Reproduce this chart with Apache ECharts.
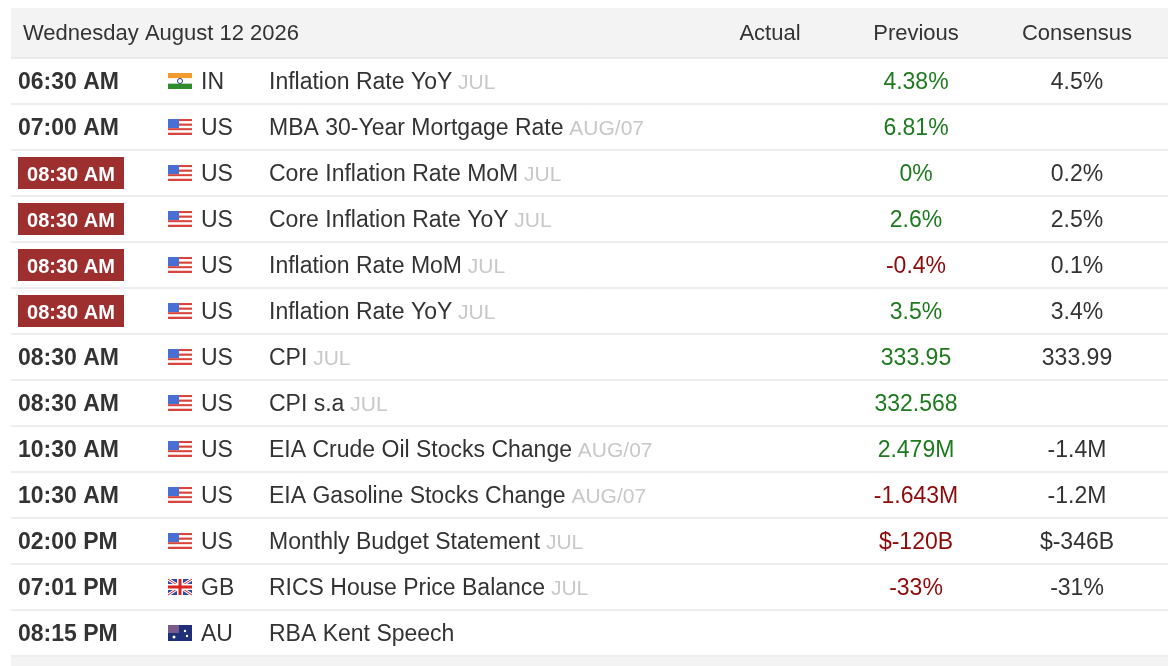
<!DOCTYPE html>
<html><head><meta charset="utf-8">
<script src="https://cdn.jsdelivr.net/npm/echarts@6/dist/echarts.min.js"></script>
<style>html,body{margin:0;background:#fff}#c{width:1168px;height:666px}</style>
</head><body><div id="c"></div>
<script>
// table data
const dateLabel = 'Wednesday August 12 2026';
const headers = ['Actual', 'Previous', 'Consensus'];
const times = ['06:30 AM','07:00 AM','08:30 AM','08:30 AM','08:30 AM','08:30 AM','08:30 AM','08:30 AM','10:30 AM','10:30 AM','02:00 PM','07:01 PM','08:15 PM'];
const highImpact = [0,0,1,1,1,1,0,0,0,0,0,0,0];
const countries = ['IN','US','US','US','US','US','US','US','US','US','US','GB','AU'];
const events = ['Inflation Rate YoY','MBA 30-Year Mortgage Rate','Core Inflation Rate MoM','Core Inflation Rate YoY','Inflation Rate MoM','Inflation Rate YoY','CPI','CPI s.a','EIA Crude Oil Stocks Change','EIA Gasoline Stocks Change','Monthly Budget Statement','RICS House Price Balance','RBA Kent Speech'];
const periods = ['JUL','AUG/07','JUL','JUL','JUL','JUL','JUL','JUL','AUG/07','AUG/07','JUL','JUL',''];
const previous = ['4.38%','6.81%','0%','2.6%','-0.4%','3.5%','333.95','332.568','2.479M','-1.643M','$-120B','-33%',''];
const prevUp = [1,1,1,1,0,1,1,1,1,0,0,0,1];
const consensus = ['4.5%','','0.2%','2.5%','0.1%','3.4%','333.99','','-1.4M','-1.2M','$-346B','-31%',''];

const FONT = '"Liberation Sans", Arial, sans-serif';
const rows = times.map((t, i) => [0, i]);

function flag(code, x, y) {
  const w = 24, h = 16, kids = [];
  if (code === 'IN') {
    kids.push({type:'rect',shape:{x,y,width:w,height:h/3},style:{fill:'#f29a2e'}});
    kids.push({type:'rect',shape:{x,y:y+h/3,width:w,height:h/3},style:{fill:'#fafafa'}});
    kids.push({type:'rect',shape:{x,y:y+2*h/3,width:w,height:h/3},style:{fill:'#2d8a2d'}});
    kids.push({type:'circle',shape:{cx:x+w/2,cy:y+h/2,r:2.5},style:{fill:'none',stroke:'#2a3a8c',lineWidth:1}});
  } else if (code === 'US') {
    for (let s = 0; s < 7; s++) kids.push({type:'rect',shape:{x,y:y+s*h/7,width:w,height:h/7},style:{fill:s%2?'#fff':'#d9453e'}});
    kids.push({type:'rect',shape:{x,y,width:11,height:9},style:{fill:'#4a6fd4'}});
  } else if (code === 'GB') {
    kids.push({type:'rect',shape:{x,y,width:w,height:h},style:{fill:'#2b4aa0'}});
    kids.push({type:'line',shape:{x1:x,y1:y,x2:x+w,y2:y+h},style:{stroke:'#fff',lineWidth:3}});
    kids.push({type:'line',shape:{x1:x+w,y1:y,x2:x,y2:y+h},style:{stroke:'#fff',lineWidth:3}});
    kids.push({type:'line',shape:{x1:x,y1:y,x2:x+w,y2:y+h},style:{stroke:'#d22',lineWidth:1}});
    kids.push({type:'line',shape:{x1:x+w,y1:y,x2:x,y2:y+h},style:{stroke:'#d22',lineWidth:1}});
    kids.push({type:'rect',shape:{x:x+w/2-3,y,width:6,height:h},style:{fill:'#fff'}});
    kids.push({type:'rect',shape:{x,y:y+h/2-3,width:w,height:6},style:{fill:'#fff'}});
    kids.push({type:'rect',shape:{x:x+w/2-1.5,y,width:3,height:h},style:{fill:'#d22'}});
    kids.push({type:'rect',shape:{x,y:y+h/2-1.5,width:w,height:3},style:{fill:'#d22'}});
  } else {
    kids.push({type:'rect',shape:{x,y,width:w,height:h},style:{fill:'#1f2f7a'}});
    kids.push({type:'rect',shape:{x,y,width:11,height:8},style:{fill:'#7a5a8a'}});
    kids.push({type:'circle',shape:{cx:x+17,cy:y+6,r:1.2},style:{fill:'#fff'}});
    kids.push({type:'circle',shape:{cx:x+19,cy:y+11,r:1.2},style:{fill:'#fff'}});
    kids.push({type:'circle',shape:{cx:x+6,cy:y+12,r:1.5},style:{fill:'#fff'}});
  }
  return kids;
}

function renderItem(params, api) {
  const i = api.value(1);
  const c = api.coord([0, i]);
  const cy = c[1];
  const ty = cy + 2;
  const kids = [];
  kids.push({type:'line',shape:{x1:11,y1:cy+23,x2:1168,y2:cy+23},style:{stroke:'#dcdce2',lineWidth:1}});
  if (highImpact[i]) {
    kids.push({type:'rect',shape:{x:18,y:cy-16,width:106,height:32},style:{fill:'#9e2f2f'}});
    kids.push({type:'text',x:71,y:ty,style:{text:times[i],fill:'#fff',font:'bold 20px '+FONT,align:'center',verticalAlign:'middle'}});
  } else {
    kids.push({type:'text',x:18,y:ty,style:{text:times[i],fill:'#333',font:'bold 23px '+FONT,verticalAlign:'middle'}});
  }
  kids.push(...flag(countries[i], 168, cy - 8));
  kids.push({type:'text',x:201,y:ty,style:{text:countries[i],fill:'#333',font:'23px '+FONT,verticalAlign:'middle'}});
  kids.push({type:'text',x:269,y:ty,style:{rich:{e:{fill:'#333',font:'23px '+FONT},p:{fill:'#c8c8c8',font:'21px '+FONT}},text:'{e|'+events[i]+'}{p| '+periods[i]+'}',verticalAlign:'middle'}});
  kids.push({type:'text',x:916,y:ty,style:{text:previous[i],fill:prevUp[i]?'#1e7a1e':'#8e0a0a',font:'23px '+FONT,align:'center',verticalAlign:'middle'}});
  kids.push({type:'text',x:1077,y:ty,style:{text:consensus[i],fill:'#333',font:'23px '+FONT,align:'center',verticalAlign:'middle'}});
  return {type:'group',children:kids};
}

const chart = echarts.init(document.getElementById('c'));
chart.setOption({
  animation: false,
  grid: {left: 0, right: 0, top: 58, bottom: 10},
  xAxis: {type: 'value', min: 0, max: 1168, show: false},
  yAxis: {type: 'category', data: times.map((t, i) => i), inverse: true, show: false},
  graphic: [
    {type:'rect',shape:{x:11,y:8,width:1157,height:50},style:{fill:'#f3f3f3'}},
    {type:'line',shape:{x1:11,y1:58,x2:1168,y2:58},style:{stroke:'#dcdce2',lineWidth:1}},
    {type:'rect',shape:{x:11,y:657,width:1157,height:9},style:{fill:'#f3f3f3'}},
    {type:'text',x:23,y:34,style:{text:dateLabel,fill:'#333',font:'22px '+FONT,verticalAlign:'middle'}},
    {type:'text',x:770,y:34,style:{text:headers[0],fill:'#333',font:'22px '+FONT,align:'center',verticalAlign:'middle'}},
    {type:'text',x:916,y:34,style:{text:headers[1],fill:'#333',font:'22px '+FONT,align:'center',verticalAlign:'middle'}},
    {type:'text',x:1077,y:34,style:{text:headers[2],fill:'#333',font:'22px '+FONT,align:'center',verticalAlign:'middle'}}
  ],
  series: [{type: 'custom', renderItem, data: rows, silent: true}]
});
</script></body></html>
